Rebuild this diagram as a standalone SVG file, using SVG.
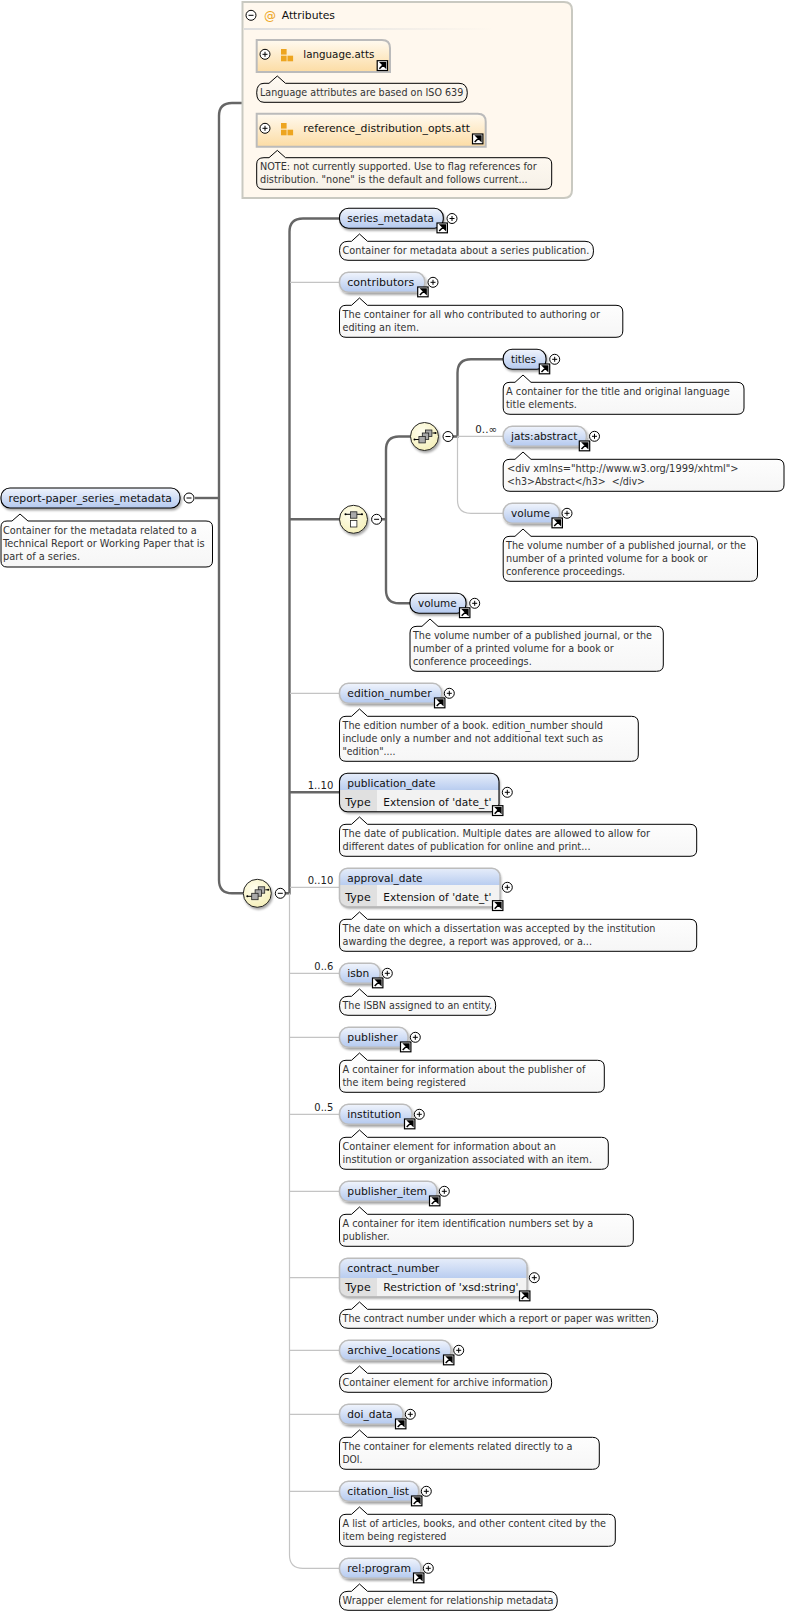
<svg xmlns="http://www.w3.org/2000/svg" xmlns:xlink="http://www.w3.org/1999/xlink" width="806" height="1614" viewBox="0 0 806 1614">
<style>
text{font-family:"DejaVu Sans","Open Sans",sans-serif;font-size:10.6px;fill:#111}
.t{fill:#333}
.l{fill:#222}
.thick{fill:none;stroke:#666;stroke-width:2.4}
.thin{fill:none;stroke:#c4c4c4;stroke-width:1.2}
.req{fill:url(#blue);stroke:#000;stroke-width:1.1;filter:url(#sh)}
.opt{fill:url(#blue);stroke:#bcbcbc;stroke-width:1.5;filter:url(#sh)}
.tip{fill:url(#tipg);stroke:#000;stroke-width:1}
.tipa{fill:url(#tipa);stroke:#000;stroke-width:1}
.circ{fill:url(#yel);stroke:#222;stroke-width:1;filter:url(#sh)}
.att{fill:url(#org);stroke:#bbb;stroke-width:2}
.base{fill:#f2f2f2;filter:url(#sh)}
</style>
<defs>
<linearGradient id="blue" x1="0" y1="0" x2="0" y2="1"><stop offset="0" stop-color="#f0f4fc"/><stop offset="1" stop-color="#b4c9ef"/></linearGradient>
<linearGradient id="hdr" x1="0" y1="0" x2="0" y2="1"><stop offset="0" stop-color="#e6edfa"/><stop offset="1" stop-color="#b9cdf0"/></linearGradient>
<linearGradient id="tipg" x1="0" y1="0" x2="0" y2="1"><stop offset="0" stop-color="#fff"/><stop offset="1" stop-color="#f6f6f6"/></linearGradient>
<linearGradient id="tipa" x1="0" y1="0" x2="0" y2="1"><stop offset="0" stop-color="#fffaf2"/><stop offset="1" stop-color="#f6f1e8"/></linearGradient>
<linearGradient id="org" x1="0" y1="0" x2="0" y2="1"><stop offset="0" stop-color="#fffaf0"/><stop offset="1" stop-color="#fcdca4"/></linearGradient>
<linearGradient id="sep" x1="0" y1="0" x2="1" y2="0"><stop offset="0" stop-color="#ddd"/><stop offset="1" stop-color="#fff8ee"/></linearGradient>
<radialGradient id="yel" cx="0.4" cy="0.35" r="0.75"><stop offset="0" stop-color="#fffef0"/><stop offset="1" stop-color="#f4eeb4"/></radialGradient>
<filter id="sh" x="-20%" y="-20%" width="140%" height="150%"><feDropShadow dx="1.2" dy="2" stdDeviation="0.8" flood-color="#000" flood-opacity="0.35"/></filter>
<g id="plus"><circle r="5" fill="#fff" stroke="#000" stroke-width="1"/><path d="M-2.5 0H2.5M0 -2.5V2.5" stroke="#000" stroke-width="1"/></g>
<g id="minus"><circle r="5" fill="#fff" stroke="#000" stroke-width="1"/><path d="M-2.5 0H2.5" stroke="#000" stroke-width="1"/></g>
<g id="ext"><rect x="0" y="0" width="10.4" height="9.8" fill="#fff" stroke="#000" stroke-width="1.2"/><path d="M2.2 8L6 4.2M3.6 2H8.4V6.8Z" fill="#000" stroke="#000" stroke-width="1.5"/></g>
<g id="seq"><path d="M-10 3H-5M8 -3.5H11" stroke="#000" stroke-width="1"/><circle cx="-10" cy="3" r="1" fill="#000"/><circle cx="11" cy="-3.5" r="1" fill="#000"/><rect x="1" y="-6.5" width="6.4" height="6.4" fill="#aaa" stroke="#222" stroke-width=".8"/><rect x="-2.2" y="-3.5" width="6.4" height="6.4" fill="#aaa" stroke="#222" stroke-width=".8"/><rect x="-5.6" y="0" width="6.4" height="6.4" fill="#aaa" stroke="#222" stroke-width=".8"/></g>
<g id="chc"><path d="M-8 -5H8.5" stroke="#000" stroke-width="1"/><circle cx="-8" cy="-5" r="1" fill="#000"/><circle cx="8.5" cy="-5" r="1" fill="#000"/><rect x="-3" y="-7.5" width="6.4" height="6.4" fill="#aaa" stroke="#222" stroke-width=".8"/><rect x="-3" y="1.3" width="6.4" height="6.4" fill="#fff" stroke="#222" stroke-width=".8"/></g>
<g id="ag"><rect x="0" y="0" width="5.6" height="5.6" fill="#eda520"/><rect x="0" y="6.7" width="5.6" height="5.6" fill="#eda520"/><rect x="6.5" y="6.7" width="5.6" height="5.6" fill="#eda520"/></g>
</defs>

<g id="connectors">
<path class="thick" d="M242 103H232Q219 103 219 116V880Q219 893.3 232 893.3H243"/>
<path class="thick" d="M195 498H219"/>
<path class="thick" d="M339 218.5H303Q289.5 218.5 289.5 232V893.3H285"/>
<path class="thin" d="M289.5 893.3V1555Q289.5 1568.3 303 1568.3H339"/>
<path class="thin" d="M290 282.3H339M290 693.3H339M290 887.3H339M290 973.3H339M290 1037.3H339M290 1114.3H339M290 1191.3H339M290 1277.7H339M290 1350.3H339M290 1414.3H339M290 1491.3H339"/>
<path class="thick" d="M290 519.3H340M290 792.3H339"/>
<path class="thick" d="M411 436.5H399Q386 436.5 386 450V590Q386 603.3 399 603.3H410M381 519.3H386"/>
<path class="thick" d="M503 359.3H471Q457.5 359.3 457.5 373V436.5H453"/>
<path class="thin" d="M457.5 436.5V500Q457.5 513.3 471 513.3H503M457.5 436.3H503"/>
</g>

<g id="root">
<rect class="req" x="1" y="488" width="179" height="20" rx="9"/>
<text x="8.5" y="502" textLength="163.5" lengthAdjust="spacingAndGlyphs">report-paper_series_metadata</text>
<use href="#minus" x="189" y="498"/>
<path class="tip" d="M7 521H12L20 514L28 521H206Q212.5 521 212.5 527V561Q212.5 567 206 567H7Q1 567 1 561V527Q1 521 7 521Z"/>
<text class="t" x="3" y="534" textLength="193.7" lengthAdjust="spacingAndGlyphs">Container for the metadata related to a</text>
<text class="t" x="3" y="547" textLength="201.7" lengthAdjust="spacingAndGlyphs">Technical Report or Working Paper that is</text>
<text class="t" x="3" y="560" textLength="77" lengthAdjust="spacingAndGlyphs">part of a series.</text>
</g>

<g id="attributes">
<path d="M242.5 2H564Q572 2 572 10V190Q572 198 564 198H242.5Z" fill="#fff8ee" stroke="#c9c9c1" stroke-width="2"/>
<rect x="244" y="28" width="250" height="2" fill="url(#sep)"/>
<use href="#minus" x="251" y="15.3"/>
<text x="264" y="20" style="fill:#eda520;font-size:12px">@</text>
<text x="281.7" y="19" textLength="53.3" lengthAdjust="spacingAndGlyphs">Attributes</text>
</g>
<g id="language-atts">
<path class="att" d="M256.7 40H382Q390 40 390 48V72H256.7Z"/>
<use href="#plus" x="265" y="54.3"/>
<use href="#ag" x="281" y="49"/>
<text x="303.3" y="58" textLength="71" lengthAdjust="spacingAndGlyphs">language.atts</text>
<use href="#ext" x="377.2" y="60.7"/>
<path class="tipa" d="M264 83.3H269L277.3 76L285.5 83.3H459Q467.3 83.3 467.3 92.8Q467.3 102.3 459 102.3H264Q256.7 102.3 256.7 92.8Q256.7 83.3 264 83.3Z"/>
<text class="t" x="260" y="96" textLength="203.3" lengthAdjust="spacingAndGlyphs">Language attributes are based on ISO 639</text>
</g>
<g id="reference-distribution-opts">
<path class="att" d="M256.7 113.7H477.7Q485.7 113.7 485.7 121.7V146.7H256.7Z"/>
<use href="#plus" x="265" y="128.3"/>
<use href="#ag" x="281" y="123"/>
<text x="303.3" y="132" textLength="166.7" lengthAdjust="spacingAndGlyphs">reference_distribution_opts.att</text>
<use href="#ext" x="472.5" y="134"/>
<path class="tipa" d="M264 157.7H269L277.3 150.4L285.5 157.7H545Q551.7 157.7 551.7 164V183Q551.7 189.3 545 189.3H264Q256.7 189.3 256.7 183V164Q256.7 157.7 264 157.7Z"/>
<text class="t" x="260" y="170" textLength="276.7" lengthAdjust="spacingAndGlyphs">NOTE: not currently supported. Use to flag references for</text>
<text class="t" x="260" y="183" textLength="267.7" lengthAdjust="spacingAndGlyphs">distribution. "none" is the default and follows current...</text>
</g>

<g id="seq-outer"><circle class="circ" cx="257.3" cy="893.3" r="14"/><use href="#seq" x="257.3" y="893.3"/><use href="#minus" x="280.3" y="893.3"/></g>
<g id="choice"><circle class="circ" cx="353.5" cy="519.3" r="14"/><use href="#chc" x="353.5" y="519.3"/><use href="#minus" x="376.6" y="519.3"/></g>
<g id="seq-inner"><circle class="circ" cx="424.5" cy="436.5" r="14"/><use href="#seq" x="424.5" y="436.5"/><use href="#minus" x="448" y="436.5"/></g>

<g id="labels">
<text class="l" x="475.3" y="433" textLength="21.7" lengthAdjust="spacingAndGlyphs">0..∞</text>
<text class="l" x="307.7" y="789" textLength="25.6" lengthAdjust="spacingAndGlyphs">1..10</text>
<text class="l" x="307.7" y="884" textLength="25.6" lengthAdjust="spacingAndGlyphs">0..10</text>
<text class="l" x="314.3" y="970" textLength="19" lengthAdjust="spacingAndGlyphs">0..6</text>
<text class="l" x="314.3" y="1111" textLength="19" lengthAdjust="spacingAndGlyphs">0..5</text>
</g>

<g id="series_metadata">
<rect class="req" x="339.5" y="208.3" width="103.8" height="20" rx="9"/>
<text x="347.3" y="222" textLength="86.7" lengthAdjust="spacingAndGlyphs">series_metadata</text>
<use href="#ext" x="437" y="223"/><use href="#plus" x="452" y="218.5"/>
<path class="tip" d="M348 241.3H351.5L359.5 234L367.5 241.3H585Q593.5 241.3 593.5 250.8Q593.5 260.3 585 260.3H348Q339.5 260.3 339.5 250.8Q339.5 241.3 348 241.3Z"/>
<text class="t" x="342.5" y="254" textLength="246.9" lengthAdjust="spacingAndGlyphs">Container for metadata about a series publication.</text>
</g>
<g id="contributors">
<rect class="opt" x="339.5" y="272.3" width="85.3" height="20" rx="9"/>
<text x="347.3" y="286" textLength="67" lengthAdjust="spacingAndGlyphs">contributors</text>
<use href="#ext" x="417.7" y="287"/><use href="#plus" x="433" y="282.3"/>
<path class="tip" d="M346 305.3H351.5L359.5 298L367.5 305.3H616Q622.8 305.3 622.8 312V331Q622.8 337.3 616 337.3H346Q339.5 337.3 339.5 331V312Q339.5 305.3 346 305.3Z"/>
<text class="t" x="342.5" y="318" textLength="257.5" lengthAdjust="spacingAndGlyphs">The container for all who contributed to authoring or</text>
<text class="t" x="342.5" y="331" textLength="76.5" lengthAdjust="spacingAndGlyphs">editing an item.</text>
</g>
<g id="titles">
<rect class="req" x="503.2" y="349.3" width="42.8" height="20" rx="9"/>
<text x="511" y="363" textLength="25" lengthAdjust="spacingAndGlyphs">titles</text>
<use href="#ext" x="539.3" y="364"/><use href="#plus" x="554.7" y="359.3"/>
<path class="tip" d="M510 382.3H515L523 375L531 382.3H737Q744 382.3 744 389V408Q744 414.3 737 414.3H510Q503.2 414.3 503.2 408V389Q503.2 382.3 510 382.3Z"/>
<text class="t" x="506" y="395" textLength="223.8" lengthAdjust="spacingAndGlyphs">A container for the title and original language</text>
<text class="t" x="506" y="408" textLength="71" lengthAdjust="spacingAndGlyphs">title elements.</text>
</g>
<g id="jats-abstract">
<rect class="opt" x="503.2" y="426.3" width="83.2" height="20" rx="9"/>
<text x="511" y="440" textLength="66.3" lengthAdjust="spacingAndGlyphs">jats:abstract</text>
<use href="#ext" x="579.3" y="441"/><use href="#plus" x="594.5" y="436.3"/>
<path class="tip" d="M510 459.3H515L523 452L531 459.3H777Q784 459.3 784 466V485Q784 491.3 777 491.3H510Q503.2 491.3 503.2 485V466Q503.2 459.3 510 459.3Z"/>
<text class="t" x="507" y="472" textLength="231.6" lengthAdjust="spacingAndGlyphs">&lt;div xmlns="http://www.w3.org/1999/xhtml"&gt;</text>
<text class="t" x="507" y="485" textLength="138" lengthAdjust="spacingAndGlyphs" xml:space="preserve">&lt;h3&gt;Abstract&lt;/h3&gt;  &lt;/div&gt;</text>
</g>
<g id="volume-inner">
<rect class="opt" x="503.2" y="503.3" width="56.3" height="20" rx="9"/>
<text x="511" y="517" textLength="39" lengthAdjust="spacingAndGlyphs">volume</text>
<use href="#ext" x="552" y="518"/><use href="#plus" x="567" y="513.3"/>
<path class="tip" d="M510 536.3H515L523 529L531 536.3H750.5Q757.5 536.3 757.5 543V575Q757.5 581.3 750.5 581.3H510Q503.2 581.3 503.2 575V543Q503.2 536.3 510 536.3Z"/>
<text class="t" x="506" y="549" textLength="240" lengthAdjust="spacingAndGlyphs">The volume number of a published journal, or the</text>
<text class="t" x="506" y="562" textLength="201.6" lengthAdjust="spacingAndGlyphs">number of a printed volume for a book or</text>
<text class="t" x="506" y="575" textLength="119" lengthAdjust="spacingAndGlyphs">conference proceedings.</text>
</g>
<g id="volume-outer">
<rect class="req" x="410" y="593.3" width="56" height="20" rx="9"/>
<text x="418" y="607" textLength="38.7" lengthAdjust="spacingAndGlyphs">volume</text>
<use href="#ext" x="459.5" y="607.8"/><use href="#plus" x="474.7" y="603.3"/>
<path class="tip" d="M417 626.3H422L430 619L438 626.3H656.5Q663.3 626.3 663.3 633V665Q663.3 671.3 656.5 671.3H417Q410 671.3 410 665V633Q410 626.3 417 626.3Z"/>
<text class="t" x="413" y="639" textLength="239" lengthAdjust="spacingAndGlyphs">The volume number of a published journal, or the</text>
<text class="t" x="413" y="652" textLength="200.7" lengthAdjust="spacingAndGlyphs">number of a printed volume for a book or</text>
<text class="t" x="413" y="665" textLength="118.7" lengthAdjust="spacingAndGlyphs">conference proceedings.</text>
</g>
<g id="edition_number">
<rect class="opt" x="339.5" y="683.3" width="102.2" height="20" rx="9"/>
<text x="347.3" y="697" textLength="84.3" lengthAdjust="spacingAndGlyphs">edition_number</text>
<use href="#ext" x="434.5" y="698"/><use href="#plus" x="449.3" y="693.3"/>
<path class="tip" d="M346 716.3H351.5L359.5 709L367.5 716.3H631.5Q638.3 716.3 638.3 723V755Q638.3 761.3 631.5 761.3H346Q339.5 761.3 339.5 755V723Q339.5 716.3 346 716.3Z"/>
<text class="t" x="342.5" y="729" textLength="260.5" lengthAdjust="spacingAndGlyphs">The edition number of a book. edition_number should</text>
<text class="t" x="342.5" y="742" textLength="260.5" lengthAdjust="spacingAndGlyphs">include only a number and not additional text such as</text>
<text class="t" x="342.5" y="755" textLength="53" lengthAdjust="spacingAndGlyphs">"edition"....</text>
</g>
<g id="publication_date">
<rect class="base" x="339.5" y="773.3" width="159.5" height="38.4" rx="8"/>
<path d="M339.5 790V781.3Q339.5 773.3 347.5 773.3H491Q499 773.3 499 781.3V790Z" fill="url(#hdr)"/>
<path d="M339.5 790H377V811.7H347.5Q339.5 811.7 339.5 803.7Z" fill="#e0e0e0"/>
<rect x="339.5" y="773.3" width="159.5" height="38.4" rx="8" fill="none" stroke="#000" stroke-width="1.1"/>
<text x="347.3" y="787" textLength="88.3" lengthAdjust="spacingAndGlyphs">publication_date</text>
<text x="345.3" y="806" textLength="25.4" lengthAdjust="spacingAndGlyphs">Type</text>
<text x="383.3" y="806" textLength="108" lengthAdjust="spacingAndGlyphs">Extension of 'date_t'</text>
<use href="#ext" x="492.5" y="805.7"/><use href="#plus" x="507.3" y="792.3"/>
<path class="tip" d="M346 824.3H351.5L359.5 817L367.5 824.3H690Q696.7 824.3 696.7 831V850Q696.7 856.3 690 856.3H346Q339.5 856.3 339.5 850V831Q339.5 824.3 346 824.3Z"/>
<text class="t" x="342.5" y="837" textLength="307.5" lengthAdjust="spacingAndGlyphs">The date of publication. Multiple dates are allowed to allow for</text>
<text class="t" x="342.5" y="850" textLength="248" lengthAdjust="spacingAndGlyphs">different dates of publication for online and print...</text>
</g>
<g id="approval_date">
<rect class="base" x="339.5" y="868.3" width="160.5" height="38.4" rx="8"/>
<path d="M339.5 885V876.3Q339.5 868.3 347.5 868.3H492Q500 868.3 500 876.3V885Z" fill="url(#hdr)"/>
<path d="M339.5 885H377V906.7H347.5Q339.5 906.7 339.5 898.7Z" fill="#e0e0e0"/>
<rect x="339.5" y="868.3" width="160.5" height="38.4" rx="8" fill="none" stroke="#bcbcbc" stroke-width="1.5"/>
<text x="347.3" y="882" textLength="75.3" lengthAdjust="spacingAndGlyphs">approval_date</text>
<text x="345.3" y="901" textLength="25.4" lengthAdjust="spacingAndGlyphs">Type</text>
<text x="383.3" y="901" textLength="108" lengthAdjust="spacingAndGlyphs">Extension of 'date_t'</text>
<use href="#ext" x="492.5" y="900.7"/><use href="#plus" x="507.3" y="887.3"/>
<path class="tip" d="M346 919.3H351.5L359.5 912L367.5 919.3H690Q696.7 919.3 696.7 926V945Q696.7 951.3 690 951.3H346Q339.5 951.3 339.5 945V926Q339.5 919.3 346 919.3Z"/>
<text class="t" x="342.5" y="932" textLength="313" lengthAdjust="spacingAndGlyphs">The date on which a dissertation was accepted by the institution</text>
<text class="t" x="342.5" y="945" textLength="249.5" lengthAdjust="spacingAndGlyphs">awarding the degree, a report was approved, or a...</text>
</g>
<g id="isbn">
<rect class="opt" x="339.5" y="963.3" width="40.5" height="20" rx="9"/>
<text x="347.3" y="977" textLength="22" lengthAdjust="spacingAndGlyphs">isbn</text>
<use href="#ext" x="372.5" y="978"/><use href="#plus" x="387.3" y="973.3"/>
<path class="tip" d="M348 996.3H351.5L359.5 989L367.5 996.3H487Q495.7 996.3 495.7 1005.8Q495.7 1015.3 487 1015.3H348Q339.5 1015.3 339.5 1005.8Q339.5 996.3 348 996.3Z"/>
<text class="t" x="342.5" y="1009" textLength="149.5" lengthAdjust="spacingAndGlyphs">The ISBN assigned to an entity.</text>
</g>
<g id="publisher">
<rect class="opt" x="339.5" y="1027.3" width="68.5" height="20" rx="9"/>
<text x="347.3" y="1041" textLength="50.3" lengthAdjust="spacingAndGlyphs">publisher</text>
<use href="#ext" x="400.5" y="1042"/><use href="#plus" x="415.3" y="1037.3"/>
<path class="tip" d="M346 1060.3H351.5L359.5 1053L367.5 1060.3H597.5Q604.3 1060.3 604.3 1067V1086Q604.3 1092.3 597.5 1092.3H346Q339.5 1092.3 339.5 1086V1067Q339.5 1060.3 346 1060.3Z"/>
<text class="t" x="342.5" y="1073" textLength="243" lengthAdjust="spacingAndGlyphs">A container for information about the publisher of</text>
<text class="t" x="342.5" y="1086" textLength="123.5" lengthAdjust="spacingAndGlyphs">the item being registered</text>
</g>
<g id="institution">
<rect class="opt" x="339.5" y="1104.3" width="72.5" height="20" rx="9"/>
<text x="347.3" y="1118" textLength="54" lengthAdjust="spacingAndGlyphs">institution</text>
<use href="#ext" x="404.5" y="1119"/><use href="#plus" x="419.3" y="1114.3"/>
<path class="tip" d="M346 1137.3H351.5L359.5 1130L367.5 1137.3H601.5Q608.3 1137.3 608.3 1144V1163Q608.3 1169.3 601.5 1169.3H346Q339.5 1169.3 339.5 1163V1144Q339.5 1137.3 346 1137.3Z"/>
<text class="t" x="342.5" y="1150" textLength="213.5" lengthAdjust="spacingAndGlyphs">Container element for information about an</text>
<text class="t" x="342.5" y="1163" textLength="249.5" lengthAdjust="spacingAndGlyphs">institution or organization associated with an item.</text>
</g>
<g id="publisher_item">
<rect class="opt" x="339.5" y="1181.3" width="97.5" height="20" rx="9"/>
<text x="347.3" y="1195" textLength="79.7" lengthAdjust="spacingAndGlyphs">publisher_item</text>
<use href="#ext" x="429.5" y="1196"/><use href="#plus" x="444.3" y="1191.3"/>
<path class="tip" d="M346 1214.3H351.5L359.5 1207L367.5 1214.3H626.5Q633.3 1214.3 633.3 1221V1240Q633.3 1246.3 626.5 1246.3H346Q339.5 1246.3 339.5 1240V1221Q339.5 1214.3 346 1214.3Z"/>
<text class="t" x="342.5" y="1227" textLength="250.8" lengthAdjust="spacingAndGlyphs">A container for item identification numbers set by a</text>
<text class="t" x="342.5" y="1240" textLength="47" lengthAdjust="spacingAndGlyphs">publisher.</text>
</g>
<g id="contract_number">
<rect class="base" x="339.5" y="1258.3" width="187.5" height="38.4" rx="8"/>
<path d="M339.5 1278V1266.3Q339.5 1258.3 347.5 1258.3H519Q527 1258.3 527 1266.3V1278Z" fill="url(#hdr)"/>
<path d="M339.5 1278H377V1296.7H347.5Q339.5 1296.7 339.5 1288.7Z" fill="#e0e0e0"/>
<rect x="339.5" y="1258.3" width="187.5" height="38.4" rx="8" fill="none" stroke="#bcbcbc" stroke-width="1.5"/>
<text x="347.3" y="1272" textLength="92" lengthAdjust="spacingAndGlyphs">contract_number</text>
<text x="345.3" y="1291" textLength="25.4" lengthAdjust="spacingAndGlyphs">Type</text>
<text x="383.3" y="1291" textLength="135.3" lengthAdjust="spacingAndGlyphs">Restriction of 'xsd:string'</text>
<use href="#ext" x="519.5" y="1291"/><use href="#plus" x="534.3" y="1277.7"/>
<path class="tip" d="M348 1309.3H351.5L359.5 1302L367.5 1309.3H649Q657.7 1309.3 657.7 1318.8Q657.7 1328.3 649 1328.3H348Q339.5 1328.3 339.5 1318.8Q339.5 1309.3 348 1309.3Z"/>
<text class="t" x="342.5" y="1322" textLength="311.5" lengthAdjust="spacingAndGlyphs">The contract number under which a report or paper was written.</text>
</g>
<g id="archive_locations">
<rect class="opt" x="339.5" y="1340.3" width="111.5" height="20" rx="9"/>
<text x="347.3" y="1354" textLength="93" lengthAdjust="spacingAndGlyphs">archive_locations</text>
<use href="#ext" x="443.5" y="1355"/><use href="#plus" x="458.7" y="1350.3"/>
<path class="tip" d="M348 1373.3H351.5L359.5 1366L367.5 1373.3H543Q551.7 1373.3 551.7 1382.8Q551.7 1392.3 543 1392.3H348Q339.5 1392.3 339.5 1382.8Q339.5 1373.3 348 1373.3Z"/>
<text class="t" x="342.5" y="1386" textLength="205.5" lengthAdjust="spacingAndGlyphs">Container element for archive information</text>
</g>
<g id="doi_data">
<rect class="opt" x="339.5" y="1404.3" width="63.5" height="20" rx="9"/>
<text x="347.3" y="1418" textLength="45.3" lengthAdjust="spacingAndGlyphs">doi_data</text>
<use href="#ext" x="395.5" y="1419"/><use href="#plus" x="410.3" y="1414.3"/>
<path class="tip" d="M346 1437.3H351.5L359.5 1430L367.5 1437.3H592.5Q599.3 1437.3 599.3 1444V1463Q599.3 1469.3 592.5 1469.3H346Q339.5 1469.3 339.5 1463V1444Q339.5 1437.3 346 1437.3Z"/>
<text class="t" x="342.5" y="1450" textLength="230" lengthAdjust="spacingAndGlyphs">The container for elements related directly to a</text>
<text class="t" x="342.5" y="1463" textLength="20" lengthAdjust="spacingAndGlyphs">DOI.</text>
</g>
<g id="citation_list">
<rect class="opt" x="339.5" y="1481.3" width="79.2" height="20" rx="9"/>
<text x="347.3" y="1495" textLength="61.7" lengthAdjust="spacingAndGlyphs">citation_list</text>
<use href="#ext" x="411.5" y="1496"/><use href="#plus" x="426.3" y="1491.3"/>
<path class="tip" d="M346 1514.3H351.5L359.5 1507L367.5 1514.3H608.5Q615.3 1514.3 615.3 1521V1540Q615.3 1546.3 608.5 1546.3H346Q339.5 1546.3 339.5 1540V1521Q339.5 1514.3 346 1514.3Z"/>
<text class="t" x="342.5" y="1527" textLength="263.5" lengthAdjust="spacingAndGlyphs">A list of articles, books, and other content cited by the</text>
<text class="t" x="342.5" y="1540" textLength="104" lengthAdjust="spacingAndGlyphs">item being registered</text>
</g>
<g id="rel-program">
<rect class="opt" x="339.5" y="1558.3" width="81.5" height="20" rx="9"/>
<text x="347.3" y="1572" textLength="63.7" lengthAdjust="spacingAndGlyphs">rel:program</text>
<use href="#ext" x="413.5" y="1573"/><use href="#plus" x="428.3" y="1568.3"/>
<path class="tip" d="M348 1591.3H351.5L359.5 1584L367.5 1591.3H549Q557.3 1591.3 557.3 1600.8Q557.3 1610.3 549 1610.3H348Q339.5 1610.3 339.5 1600.8Q339.5 1591.3 348 1591.3Z"/>
<text class="t" x="342.5" y="1604" textLength="211" lengthAdjust="spacingAndGlyphs">Wrapper element for relationship metadata</text>
</g>
</svg>
